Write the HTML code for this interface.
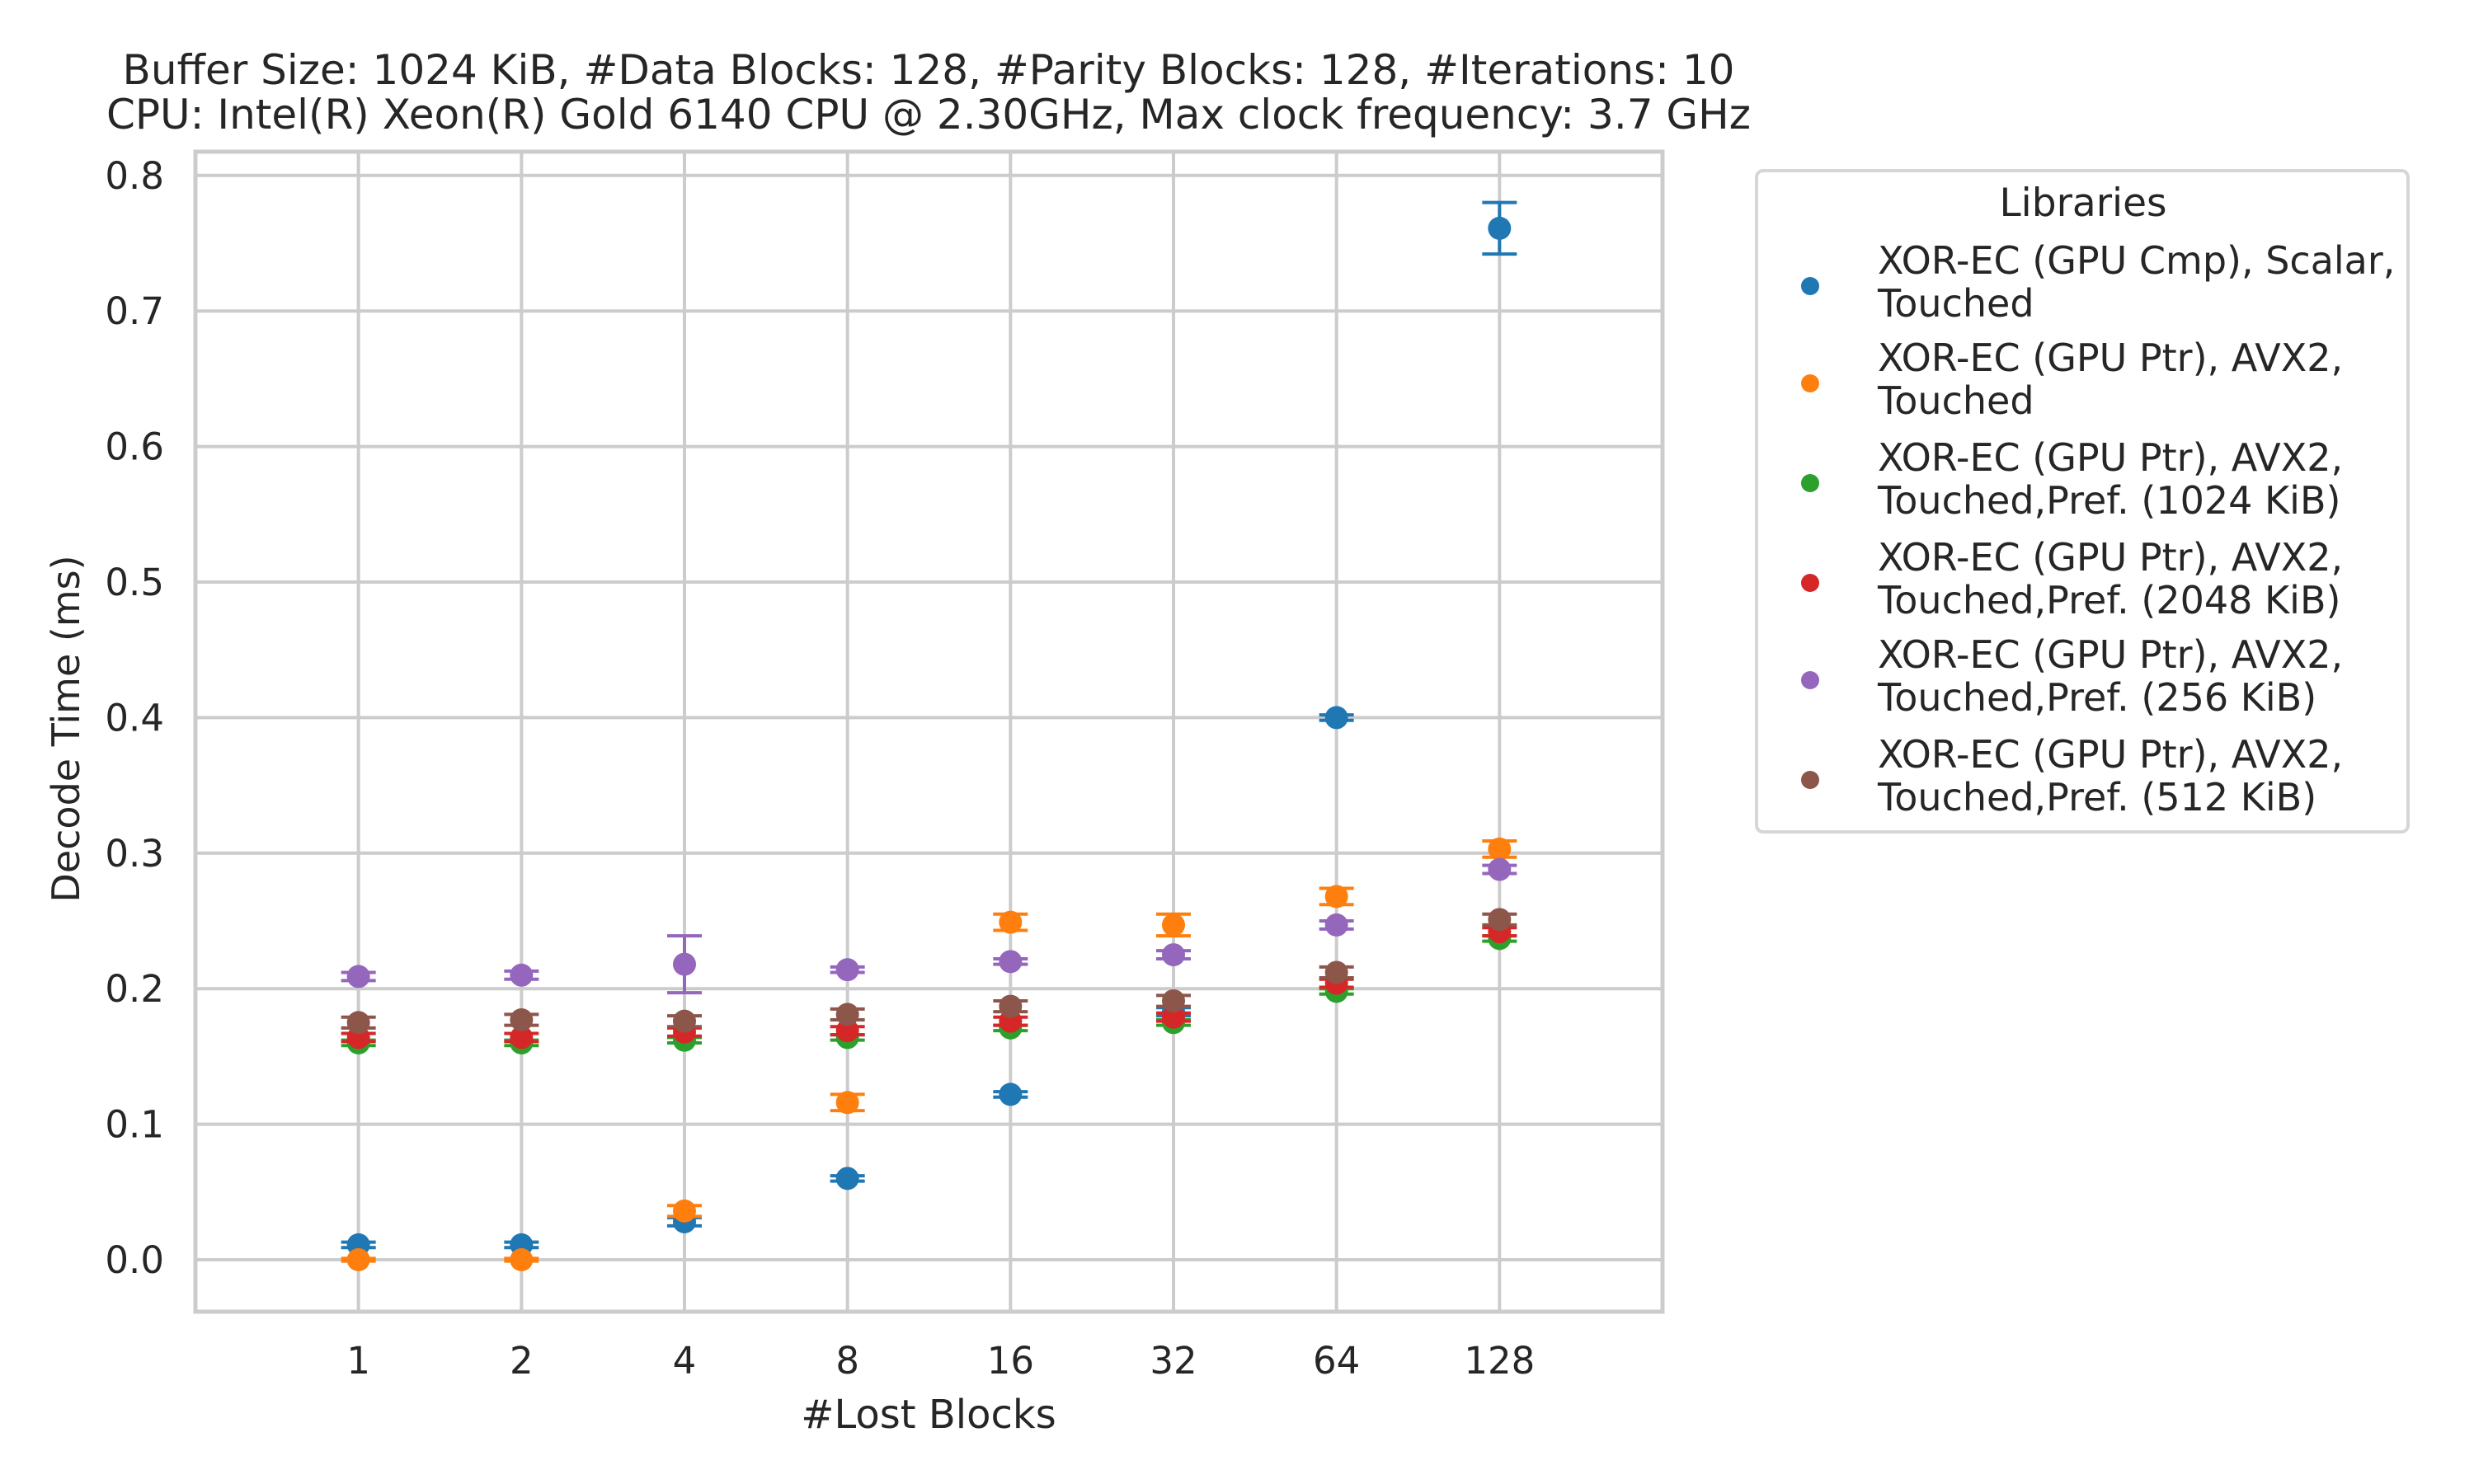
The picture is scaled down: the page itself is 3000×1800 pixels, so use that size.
<!DOCTYPE html>
<html><head><meta charset="utf-8"><style>
html,body{margin:0;padding:0;background:#fff;}
svg{display:block;font-family:"DejaVu Sans","Liberation Sans",sans-serif;}
</style></head><body>
<svg id="chart" width="3000" height="1800" viewBox="0 0 3000 1800" xmlns="http://www.w3.org/2000/svg">
<rect width="3000" height="1800" fill="#fff"/>
<g id="grid"></g>
<g id="marks"></g>
<text x="1126" y="102" font-size="50" text-anchor="middle" fill="#262626">Buffer Size: 1024 KiB, #Data Blocks: 128, #Parity Blocks: 128, #Iterations: 10</text>
<text x="1126" y="156" font-size="50" text-anchor="middle" fill="#262626">CPU: Intel(R) Xeon(R) Gold 6140 CPU @ 2.30GHz, Max clock frequency: 3.7 GHz</text>
<text x="1126" y="1732" font-size="48" text-anchor="middle" fill="#262626">#Lost Blocks</text>
<text transform="translate(96,884) rotate(-90)" font-size="46" text-anchor="middle" fill="#262626">Decode Time (ms)</text>
<g id="legend">
<rect x="2130" y="207" width="790" height="802" rx="8" fill="#fff" stroke="#d6d6d6" stroke-width="4"/>
<text x="2526" y="262" font-size="47" text-anchor="middle" fill="#262626">Libraries</text>
</g>
</svg>
<script>
const categories = ["1","2","4","8","16","32","64","128"];
const yTicks = [0.0,0.1,0.2,0.3,0.4,0.5,0.6,0.7,0.8];
const seriesNames = [
 ["XOR-EC (GPU Cmp), Scalar,","Touched"],
 ["XOR-EC (GPU Ptr), AVX2,","Touched"],
 ["XOR-EC (GPU Ptr), AVX2,","Touched,Pref. (1024 KiB)"],
 ["XOR-EC (GPU Ptr), AVX2,","Touched,Pref. (2048 KiB)"],
 ["XOR-EC (GPU Ptr), AVX2,","Touched,Pref. (256 KiB)"],
 ["XOR-EC (GPU Ptr), AVX2,","Touched,Pref. (512 KiB)"]
];
const colors = ["#1f77b4","#ff7f0e","#2ca02c","#d62728","#9467bd","#8c564b"];
const blueVals   = [0.011,0.011,0.028,0.060,0.122,0.183,0.400,0.761];
const orangeVals = [0.000,0.000,0.036,0.116,0.249,0.247,0.268,0.303];
const greenVals  = [0.160,0.160,0.162,0.164,0.171,0.175,0.198,0.237];
const redVals    = [0.164,0.164,0.168,0.169,0.176,0.179,0.204,0.242];
const purpleVals = [0.209,0.210,0.218,0.214,0.220,0.225,0.247,0.288];
const brownVals  = [0.175,0.177,0.176,0.181,0.187,0.191,0.212,0.251];
const blueErr   = [0.002,0.002,0.003,0.002,0.002,0.003,0.002,0.019];
const orangeErr = [0.001,0.001,0.004,0.006,0.006,0.008,0.006,0.006];
const greenErr  = [0.002,0.002,0.002,0.002,0.002,0.002,0.002,0.002];
const redErr    = [0.003,0.003,0.003,0.003,0.003,0.003,0.003,0.003];
const purpleErr = [0.003,0.003,0.021,0.002,0.002,0.003,0.003,0.003];
const brownErr  = [0.004,0.004,0.004,0.004,0.004,0.004,0.004,0.004];
const allVals = [blueVals,orangeVals,greenVals,redVals,purpleVals,brownVals];
const allErr = [blueErr,orangeErr,greenErr,redErr,purpleErr,brownErr];

const NS="http://www.w3.org/2000/svg";
const L=237,R=2016,T=184,B=1591;
const y0=1528, yPer=1644;
function xs(i){return L+(i+1)*(R-L)/9;}
function ys(v){return y0-v*yPer;}
function mk(tag,attrs,parent){const e=document.createElementNS(NS,tag);for(const k in attrs)e.setAttribute(k,attrs[k]);parent.appendChild(e);return e;}
const grid=document.getElementById('grid'), marks=document.getElementById('marks'), svg=document.getElementById('chart');
yTicks.forEach(t=>{
 const ln=mk('line',{x1:L,x2:R,y1:ys(t),y2:ys(t),stroke:'#cccccc','stroke-width':4},grid);
 
 
 const tx=mk('text',{x:199,y:ys(t)+16,'font-size':45,'text-anchor':'end',fill:'#262626'},svg);
 tx.textContent=t.toFixed(1);
 
 
});
categories.forEach((c,i)=>{
 const ln=mk('line',{x1:xs(i),x2:xs(i),y1:T,y2:B,stroke:'#cccccc','stroke-width':4},grid);
 
 
 const tx=mk('text',{x:xs(i),y:1666,'font-size':45,'text-anchor':'middle',fill:'#262626'},svg);
 tx.textContent=c;
 
 
});
const frame=mk('rect',{x:L,y:T,width:R-L,height:B-T,fill:'none',stroke:'#cccccc','stroke-width':5},grid);


allVals.forEach((vals,s)=>{
 const g=mk('g',{},marks);
 
 
 vals.forEach((v,i)=>{
  const e=allErr[s][i], x=xs(i), yt=ys(v+e), yb=ys(v-e);
  const el=mk('path',{d:`M${x},${yt}V${yb}M${x-21},${yt}H${x+21}M${x-21},${yb}H${x+21}`,stroke:colors[s],'stroke-width':4,fill:'none'},g);
  
  
  const pt=mk('circle',{cx:x,cy:ys(v),r:14,fill:colors[s]},g);
  
  
 });
});
const leg=document.getElementById('legend');
const legY=[347,465,586,707,825,946];
seriesNames.forEach((nm,s)=>{
 const c=mk('circle',{cx:2195,cy:legY[s],r:11,fill:colors[s]},leg);
 
 
 nm.forEach((line,j)=>{
  const t=mk('text',{x:2277,y:legY[s]-15+j*52,'font-size':46,fill:'#262626'},leg);
  t.textContent=line;
  
  
 });
});
</script>
</body></html>
